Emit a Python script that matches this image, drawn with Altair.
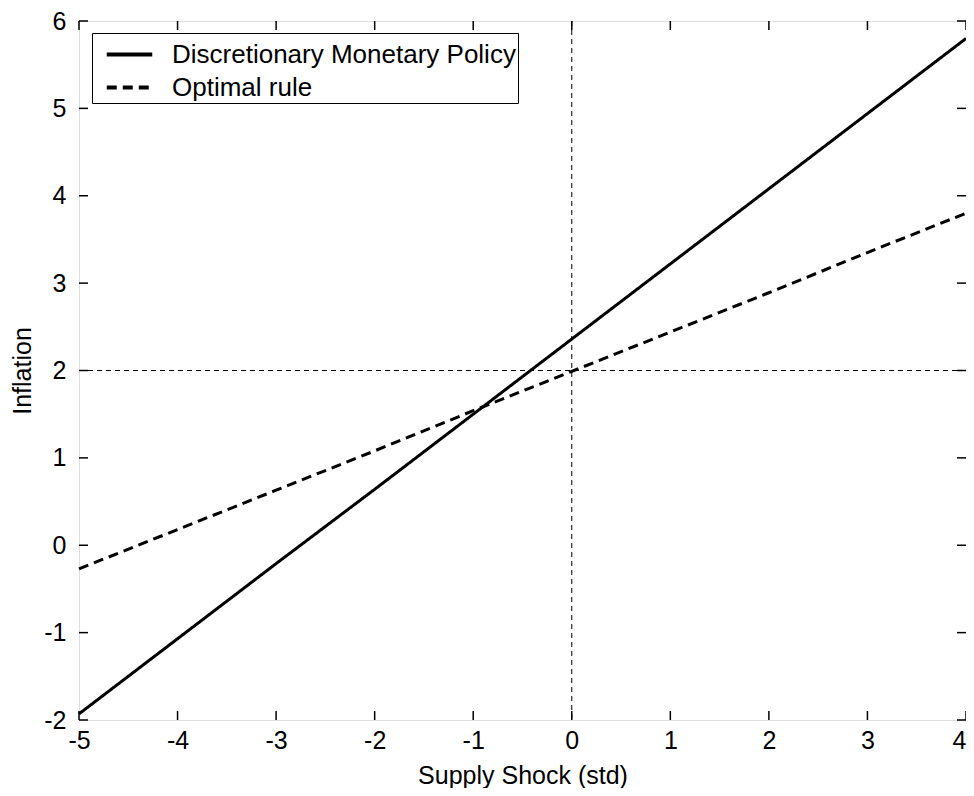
import altair as alt
import pandas as pd

shock = [-5, -4, -3, -2, -1, 0, 1, 2, 3, 4]
discretionary = [-1.93, -1.07, -0.21, 0.64, 1.50, 2.36, 3.22, 4.08, 4.94, 5.80]
optimal = [-0.27, 0.18, 0.63, 1.08, 1.54, 1.99, 2.44, 2.89, 3.35, 3.80]
series_names = ["Discretionary Monetary Policy", "Optimal rule"]
x_ticks = [-5, -4, -3, -2, -1, 0, 1, 2, 3, 4]
y_ticks = [-2, -1, 0, 1, 2, 3, 4, 5, 6]
ref_x = [0]
ref_y = [2]

W, H = 887, 699
FONT = "Liberation Sans, Arial"
LFS = 25

rows = []
for i, x in enumerate(shock):
    rows.append({"x": x, "y": discretionary[i], "series": series_names[0]})
    rows.append({"x": x, "y": optimal[i], "series": series_names[1]})
df = pd.DataFrame(rows)

xs = alt.Scale(domain=[-5, 4], nice=False, zero=False)
ys = alt.Scale(domain=[-2, 6], nice=False, zero=False)

xaxis = alt.Axis(values=x_ticks, ticks=False, domain=False, grid=False,
                 labelExpr="datum.value + ''",
                 labelAlign={"condition": {"test": "datum.value == 4", "value": "right"},
                             "value": "center"},
                 labelFont=FONT, labelFontSize=LFS, labelColor="black",
                 labelPadding=8, title="Supply Shock (std)", titleFont=FONT,
                 titleFontSize=LFS, titleFontWeight="normal", titleColor="black",
                 titleX=W / 2, titleY=55, titleBaseline="middle", labelFlush=False)
yaxis = alt.Axis(values=y_ticks, ticks=False, domain=False, grid=False,
                 labelExpr="datum.value + ''",
                 labelFont=FONT, labelFontSize=LFS, labelColor="black",
                 labelPadding=13, title="Inflation", titleFont=FONT,
                 titleFontSize=LFS, titleFontWeight="normal", titleColor="black",
                 titleX=-57, titleY=H / 2, titleBaseline="middle", labelFlush=False)

lines = alt.Chart(df).mark_line(strokeWidth=3, color="black").encode(
    x=alt.X("x:Q", scale=xs, axis=xaxis),
    y=alt.Y("y:Q", scale=ys, axis=yaxis),
    strokeDash=alt.StrokeDash(
        "series:N",
        scale=alt.Scale(domain=series_names, range=[[1, 0], [10, 6]]),
        sort=series_names,
        legend=alt.Legend(
            title=None, orient="none", legendX=13, legendY=12,
            strokeColor="black", fillColor="white", padding=2,
            labelFont=FONT, labelFontSize=26, labelColor="black", labelLimit=0,
            symbolType="M-1.3,0H1.3", symbolSize=1225, symbolStrokeWidth=4,
            symbolStrokeColor="black", symbolFillColor="transparent",
            symbolOffset=16, rowPadding=0, labelOffset=23,
        ),
    ),
    order="x:Q",
)

vline = alt.Chart(pd.DataFrame({"v": ref_x})).mark_rule(
    color="black", strokeWidth=1, strokeDash=[5, 4]).encode(x=alt.X("v:Q", scale=xs))
hline = alt.Chart(pd.DataFrame({"v": ref_y})).mark_rule(
    color="black", strokeWidth=1, strokeDash=[5, 4]).encode(y=alt.Y("v:Q", scale=ys))

xt = pd.DataFrame({"v": x_ticks})
yt = pd.DataFrame({"v": y_ticks})
tb = alt.Chart(xt).mark_rule(color="black", strokeWidth=1.5).encode(
    x=alt.X("v:Q", scale=xs), y=alt.value(H), y2=alt.value(H - 9))
tt = alt.Chart(xt).mark_rule(color="black", strokeWidth=1.5).encode(
    x=alt.X("v:Q", scale=xs), y=alt.value(0), y2=alt.value(9))
tl = alt.Chart(yt).mark_rule(color="black", strokeWidth=1.5).encode(
    y=alt.Y("v:Q", scale=ys), x=alt.value(0), x2=alt.value(9))
tr = alt.Chart(yt).mark_rule(color="black", strokeWidth=1.5).encode(
    y=alt.Y("v:Q", scale=ys), x=alt.value(W), x2=alt.value(W - 9))

chart = alt.layer(vline, hline, tb, tt, tl, tr, lines).properties(
    width=W, height=H,
    autosize=alt.AutoSizeParams(type="none"),
    padding={"left": 71, "top": 13, "right": 0, "bottom": 68},
).configure_view(stroke="black", strokeWidth=1.5).configure(background="white")

chart.save("out.html", embed_options={"renderer": "svg", "actions": False})
